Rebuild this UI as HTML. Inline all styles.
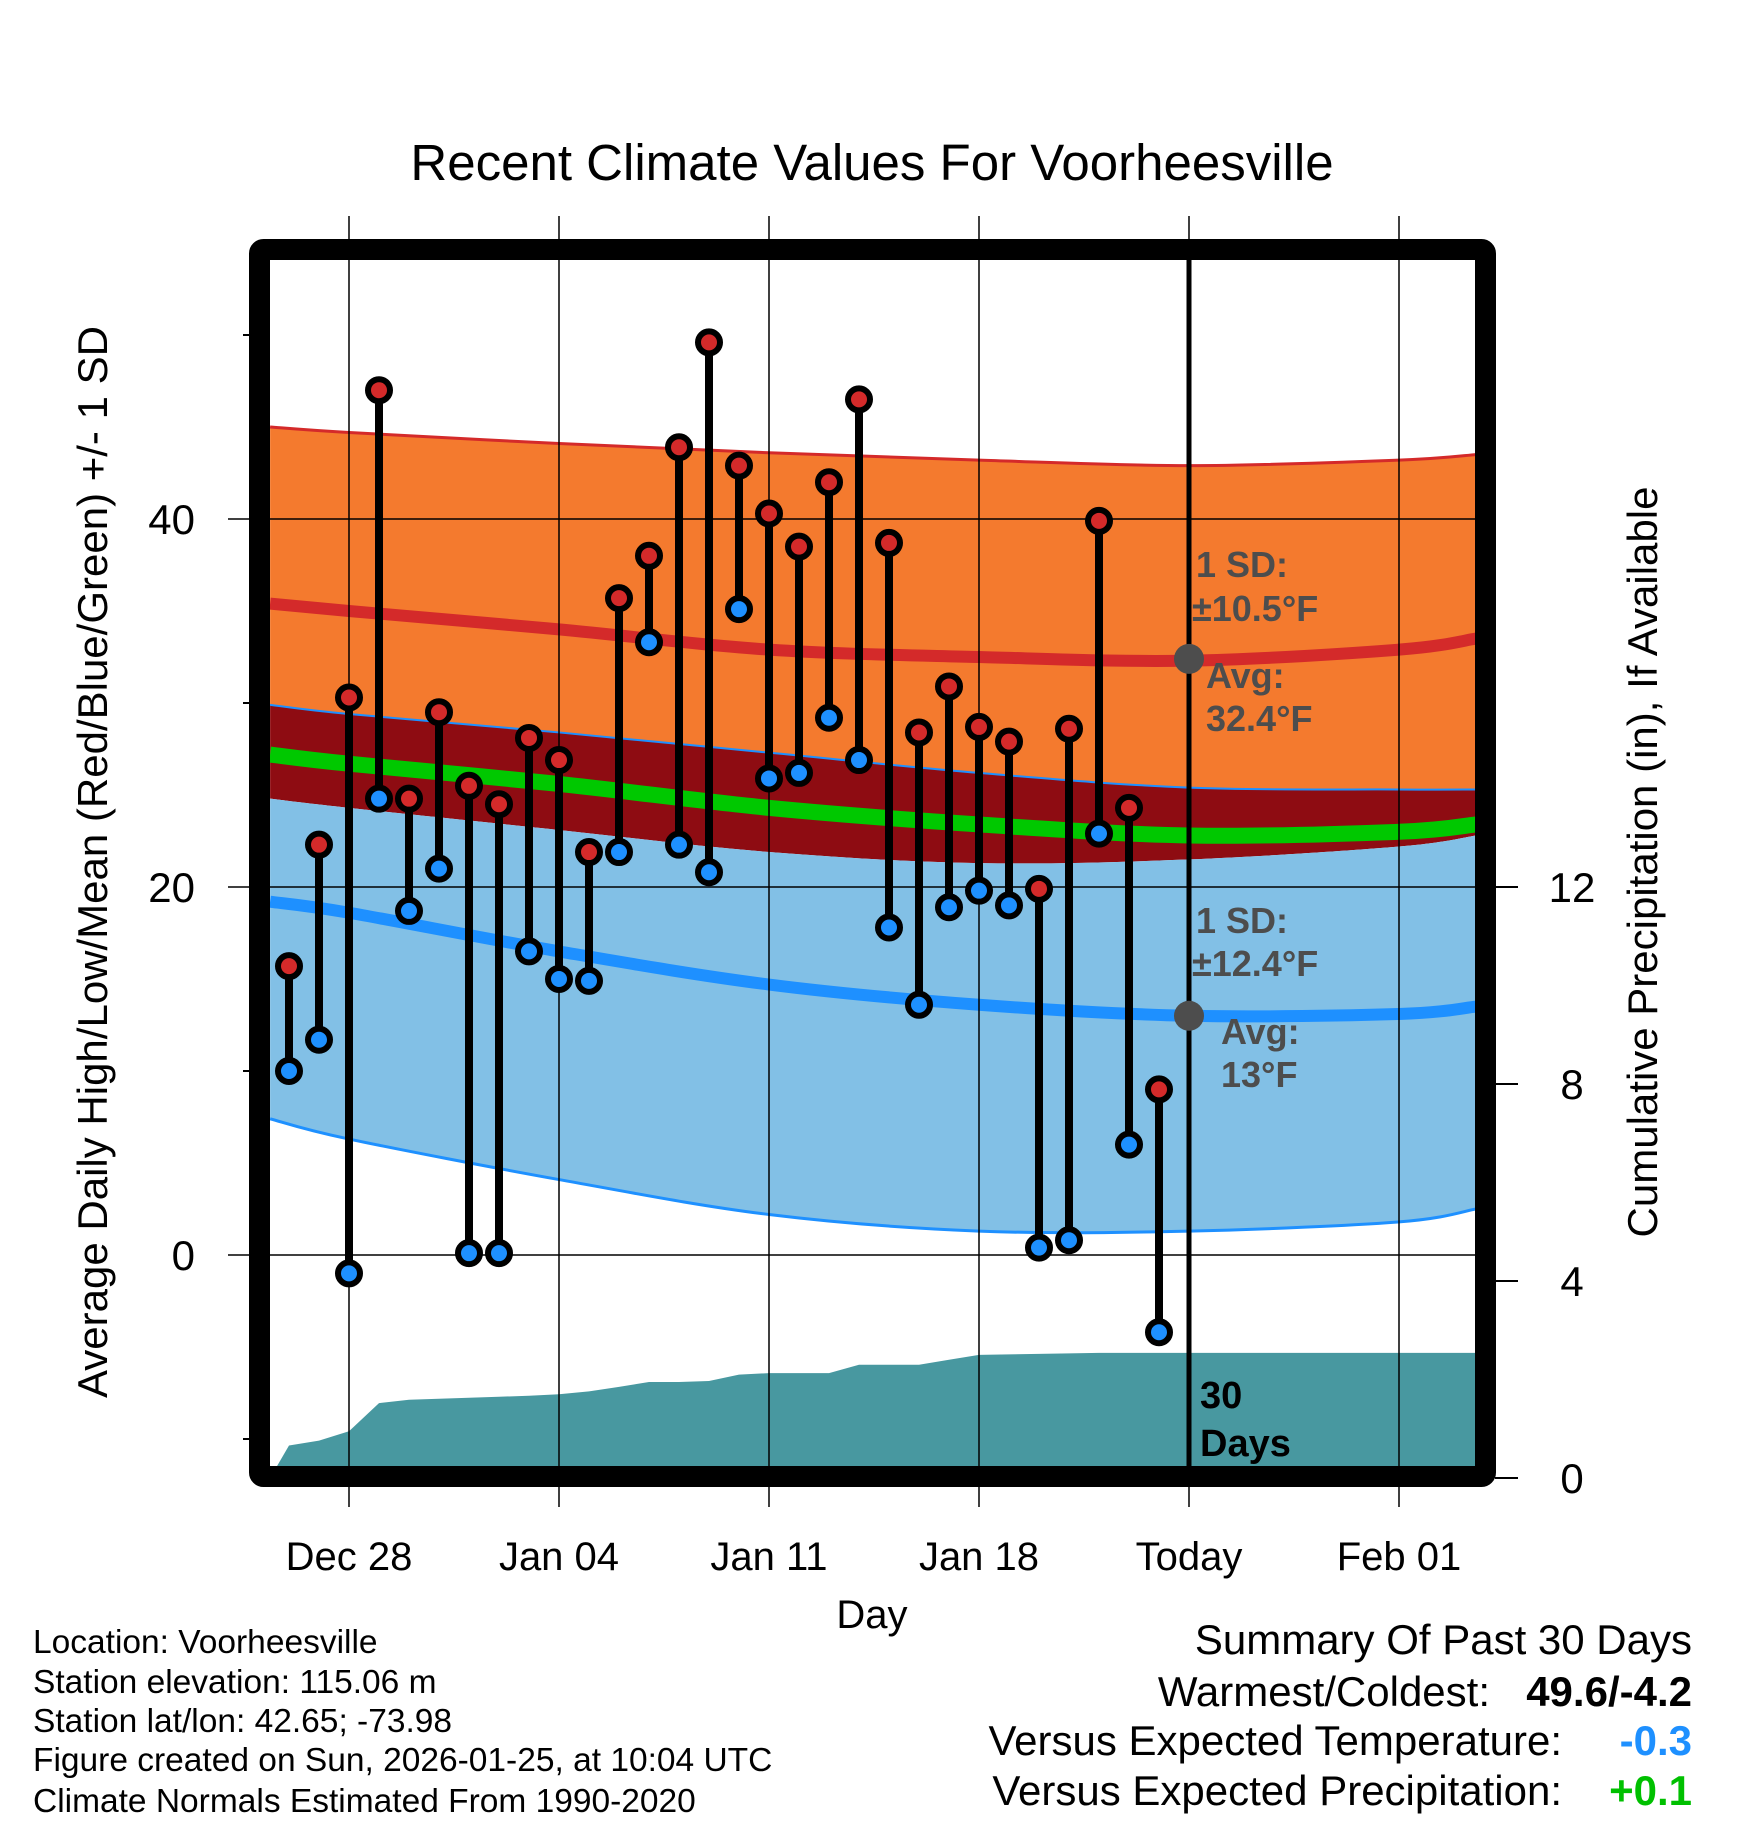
<!DOCTYPE html>
<html><head><meta charset="utf-8"><style>
html,body{margin:0;padding:0;background:#fff;}
svg{display:block;font-family:"Liberation Sans",sans-serif;}
</style></head><body>
<svg id="chart" width="1748" height="1828" viewBox="0 0 1748 1828" xmlns="http://www.w3.org/2000/svg">
<defs><clipPath id="plotclip"><rect x="270" y="260" width="1206" height="1206"/></clipPath></defs>
<text x="872" y="180" font-size="51" text-anchor="middle">Recent Climate Values For Voorheesville</text>
<g id="plot" clip-path="url(#plotclip)"></g>
<g id="axes"></g>
<g id="marks"></g>
<text transform="translate(107,862) rotate(-90)" font-size="42" text-anchor="middle">Average Daily High/Low/Mean (Red/Blue/Green) +/- 1 SD</text>
<text transform="translate(1657,862) rotate(-90)" font-size="42" text-anchor="middle">Cumulative Precipitation (in), If Available</text>
<text x="872" y="1628" font-size="40" text-anchor="middle">Day</text>
<g font-size="33.5">
<text x="33" y="1653">Location: Voorheesville</text>
<text x="33" y="1693">Station elevation: 115.06 m</text>
<text x="33" y="1732">Station lat/lon: 42.65; -73.98</text>
<text x="33" y="1771">Figure created on Sun, 2026-01-25, at 10:04 UTC</text>
<text x="33" y="1812">Climate Normals Estimated From 1990-2020</text>
</g>
<g font-size="42">
<text x="1692" y="1654" text-anchor="end">Summary Of Past 30 Days</text>
<text x="1490" y="1706" text-anchor="end">Warmest/Coldest:</text>
<text x="1692" y="1706" text-anchor="end" font-weight="bold">49.6/-4.2</text>
<text x="1562" y="1755" text-anchor="end">Versus Expected Temperature:</text>
<text x="1692" y="1755" text-anchor="end" font-weight="bold" fill="#1e90ff">-0.3</text>
<text x="1562" y="1805" text-anchor="end">Versus Expected Precipitation:</text>
<text x="1692" y="1805" text-anchor="end" font-weight="bold" fill="#00c000">+0.1</text>
</g>
</svg>
<script>
// day offsets relative to Dec 28
const dayOffsets = [-2,-1,0,1,2,3,4,5,6,7,8,9,10,11,12,13,14,15,16,17,18,19,20,21,22,23,24,25,26,27];
const highs = [15.7,22.3,30.3,47.0,24.8,29.5,25.5,24.5,28.1,26.9,21.9,35.7,38.0,43.9,49.6,42.9,40.3,38.5,42.0,46.5,38.7,28.4,30.9,28.7,27.9,19.9,28.6,39.9,24.3,9.0];
const lows = [10.0,11.7,-1.0,24.8,18.7,21.0,0.1,0.1,16.5,15.0,14.9,21.9,33.3,22.3,20.8,35.1,25.9,26.2,29.2,26.9,17.8,13.6,18.9,19.8,19.0,0.4,0.8,22.9,6.0,-4.2];
const precip = [0.66,0.76,0.95,1.52,1.59,1.61,1.63,1.65,1.67,1.70,1.76,1.85,1.95,1.95,1.97,2.10,2.13,2.13,2.13,2.30,2.30,2.30,2.40,2.50,2.51,2.52,2.53,2.54,2.54,2.54];
const normDays = [-2.63,0,7,14,21,28,35,37.57];
const highUpper = [45.0,44.7,44.1,43.6,43.2,42.9,43.2,43.5];
const highAvg = [35.4,35.0,34.0,32.9,32.5,32.3,32.9,33.5];
const highLower = [29.9,29.4,28.4,27.3,26.2,25.4,25.3,25.3];
const meanAvg = [27.2,26.7,25.6,24.3,23.4,22.8,23.0,23.4];
const lowUpper = [24.8,24.3,23.1,21.9,21.3,21.5,22.2,22.8];
const lowAvg = [19.2,18.6,16.5,14.7,13.6,13.0,13.1,13.5];
const lowLower = [7.4,6.3,4.1,2.2,1.3,1.3,1.8,2.5];
const xTickDays = [0,7,14,21,28,35];
const xTickLabels = ["Dec 28","Jan 04","Jan 11","Jan 18","Today","Feb 01"];
const yMajor = [40,20,0];
const yMinor = [50,30,10,-10];
const pTicks = [0,4,8,12];
const todayDay = 28;
const todayHighAvg = 32.4, todayLowAvg = 13;

const X = d => 349 + 30*d;
const Y = t => 1255 - 18.4*t;
const P = p => 1478 - 49.25*p;
const NS = "http://www.w3.org/2000/svg";
function mk(parent, tag, attrs){const e=document.createElementNS(NS,tag);for(const k in attrs)e.setAttribute(k,attrs[k]);parent.appendChild(e);return e;}
function pts(arr){return normDays.map((d,i)=>[X(d),Y(arr[i])]);}
function smooth(p){let s="M"+p[0][0]+","+p[0][1];for(let i=0;i<p.length-1;i++){const p0=p[i-1]||p[i],p1=p[i],p2=p[i+1],p3=p[i+2]||p2;
s+=` C${p1[0]+(p2[0]-p0[0])/6},${p1[1]+(p2[1]-p0[1])/6} ${p2[0]-(p3[0]-p1[0])/6},${p2[1]-(p3[1]-p1[1])/6} ${p2[0]},${p2[1]}`;}return s;}
function band(top,bot){const a=smooth(pts(top));const b=pts(bot).reverse();return a+" L"+smooth(b).slice(1)+" Z";}
const plot=document.getElementById('plot'), axes=document.getElementById('axes'), marks=document.getElementById('marks');

let e;
e=mk(plot,'path',{d:band(highUpper,highLower),fill:'#f47a2e'});


e=mk(plot,'path',{d:band(highLower,lowUpper),fill:'#8e0c12'});


e=mk(plot,'path',{d:band(lowUpper,lowLower),fill:'#82c0e6'});


e=mk(plot,'path',{d:smooth(pts(highUpper)),fill:'none',stroke:'#d42a2a','stroke-width':3});


e=mk(plot,'path',{d:smooth(pts(highLower)),fill:'none',stroke:'#1e90ff','stroke-width':2});


e=mk(plot,'path',{d:smooth(pts(lowLower)),fill:'none',stroke:'#1e90ff','stroke-width':3});


e=mk(plot,'path',{d:smooth(pts(meanAvg)),fill:'none',stroke:'#00c800','stroke-width':16});


e=mk(plot,'path',{d:smooth(pts(highAvg)),fill:'none',stroke:'#d42a2a','stroke-width':12});


e=mk(plot,'path',{d:smooth(pts(lowAvg)),fill:'none',stroke:'#1e90ff','stroke-width':12});



// precipitation area
let pd="M"+X(-2.63)+","+P(0);
dayOffsets.forEach((d,i)=>{pd+=" L"+X(d)+","+P(precip[i]);});
pd+=" L"+X(37.57)+","+P(precip[precip.length-1])+" L"+X(37.57)+","+P(0)+" Z";
e=mk(plot,'path',{d:pd,fill:'#4898a0'});



// gridlines
xTickDays.forEach(d=>{
  e=mk(axes,'line',{x1:X(d),x2:X(d),y1:216,y2:1507,stroke:'#000','stroke-width':1.5});
  
  
});
yMajor.forEach(t=>{
  e=mk(axes,'line',{x1:228,x2:1476,y1:Y(t),y2:Y(t),stroke:'#000','stroke-width':1.5});
  
  
  e=mk(axes,'text',{x:195,y:Y(t)+15,'font-size':42,'text-anchor':'end'});
  e.textContent=t;
  
  
});
yMinor.forEach(t=>{
  e=mk(axes,'line',{x1:243,x2:252,y1:Y(t),y2:Y(t),stroke:'#000','stroke-width':2});
  
  
});
pTicks.forEach(p=>{
  e=mk(axes,'line',{x1:1495,x2:1518,y1:P(p),y2:P(p),stroke:'#000','stroke-width':2});
  
  
  e=mk(axes,'text',{x:1572,y:P(p)+15,'font-size':42,'text-anchor':'middle'});
  e.textContent=p;
  
  
});
xTickDays.forEach((d,i)=>{
  e=mk(axes,'text',{x:X(d),y:1570,'font-size':40,'text-anchor':'middle'});
  e.textContent=xTickLabels[i];
  
  
});
// border
e=mk(axes,'rect',{x:259.5,y:249.5,width:1226,height:1227,fill:'none',stroke:'#000','stroke-width':21,rx:4});


// today line
e=mk(axes,'line',{x1:X(todayDay),x2:X(todayDay),y1:260,y2:1466,stroke:'#000','stroke-width':5});


e=mk(axes,'circle',{cx:X(todayDay),cy:Y(todayHighAvg),r:15,fill:'#4d4d4d'});


e=mk(axes,'circle',{cx:X(todayDay),cy:Y(todayLowAvg),r:15,fill:'#4d4d4d'});


// annotations
const ann=[["1 SD:",1196,577],["±10.5°F",1192,621],["Avg:",1206,688],["32.4°F",1206,731],["1 SD:",1196,933],["±12.4°F",1192,976],["Avg:",1221,1044],["13°F",1221,1087]];
ann.forEach(a=>{
  e=mk(axes,'text',{x:a[1],y:a[2],'font-size':36,'font-weight':'bold',fill:'#4d4d4d'});
  e.textContent=a[0];
  
  
});
e=mk(axes,'text',{x:1200,y:1408,'font-size':38,'font-weight':'bold'});
e.textContent="30";


e=mk(axes,'text',{x:1200,y:1456,'font-size':38,'font-weight':'bold'});
e.textContent="Days";



// daily stems and markers
dayOffsets.forEach((d,i)=>{
  e=mk(marks,'line',{x1:X(d),x2:X(d),y1:Y(highs[i]),y2:Y(lows[i]),stroke:'#000','stroke-width':8});
  
  
  e=mk(marks,'circle',{cx:X(d),cy:Y(highs[i]),r:11,fill:'#d42a2a',stroke:'#000','stroke-width':6});
  
  
  e=mk(marks,'circle',{cx:X(d),cy:Y(lows[i]),r:11,fill:'#1e90ff',stroke:'#000','stroke-width':6});
  
  
});
</script>
</body></html>
